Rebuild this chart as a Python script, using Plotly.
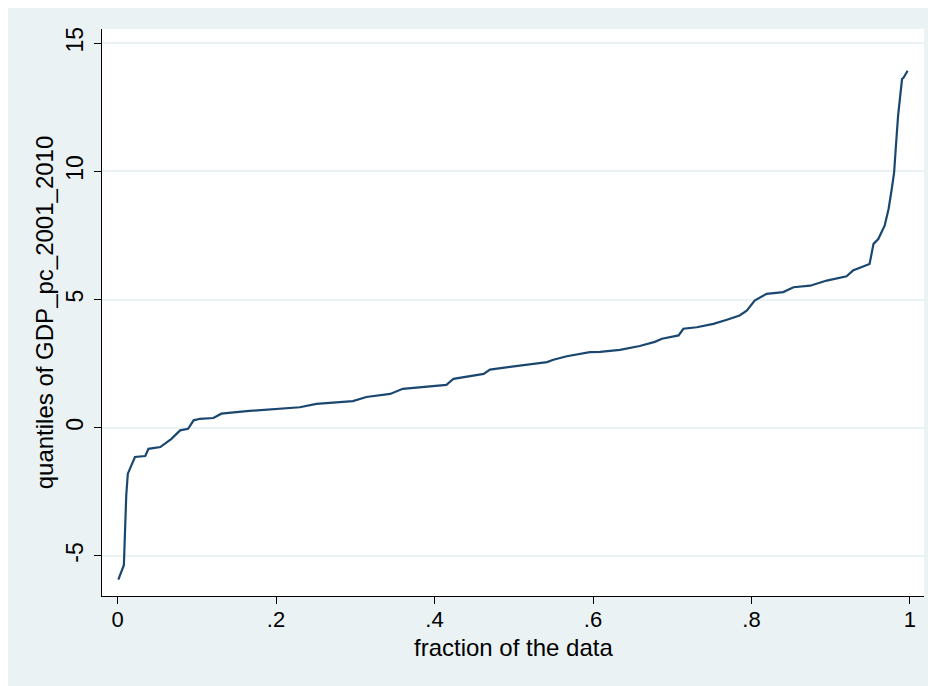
import plotly.graph_objects as go

# fraction of the data (x) and quantiles of GDP_pc_2001_2010 (y)
fraction = [0.001, 0.008, 0.009, 0.010, 0.011, 0.013, 0.022, 0.035, 0.039, 0.054,
            0.068, 0.079, 0.089, 0.096, 0.104, 0.121, 0.131, 0.163, 0.197, 0.230,
            0.251, 0.268, 0.297, 0.314, 0.344, 0.360, 0.415, 0.424, 0.462, 0.470,
            0.542, 0.550, 0.567, 0.596, 0.609, 0.634, 0.659, 0.678, 0.687, 0.708,
            0.714, 0.731, 0.752, 0.769, 0.785, 0.794, 0.804, 0.819, 0.840, 0.853,
            0.874, 0.895, 0.920, 0.928, 0.945, 0.949, 0.954, 0.960, 0.968, 0.973,
            0.977, 0.980, 0.982, 0.985, 0.990, 0.992, 0.997]
quantiles = [-5.92, -5.36, -4.45, -3.55, -2.64, -1.79, -1.14, -1.10, -0.82, -0.75,
             -0.43, -0.10, -0.04, 0.29, 0.35, 0.38, 0.55, 0.65, 0.74, 0.80,
             0.93, 0.97, 1.04, 1.20, 1.32, 1.52, 1.67, 1.91, 2.10, 2.27,
             2.56, 2.65, 2.79, 2.95, 2.96, 3.04, 3.19, 3.35, 3.47, 3.60,
             3.86, 3.92, 4.05, 4.21, 4.38, 4.57, 4.96, 5.22, 5.29, 5.48,
             5.54, 5.74, 5.91, 6.13, 6.35, 6.39, 7.17, 7.36, 7.88, 8.53,
             9.31, 9.96, 10.87, 12.17, 13.60, 13.66, 13.92]

x_ticks = [0, 0.2, 0.4, 0.6, 0.8, 1]
x_tick_labels = ["0", ".2", ".4", ".6", ".8", "1"]
y_ticks = [-5, 0, 5, 10, 15]
y_tick_labels = ["-5", "0", "5", "10", "15"]
x_title = "fraction of the data"
y_title = "quantiles of GDP_pc_2001_2010"

BG = "#EAF2F3"
LINE = "#1A476F"
FONT = "Arial, Liberation Sans, sans-serif"

fig = go.Figure()
fig.add_trace(go.Scatter(x=fraction, y=quantiles, mode="lines",
                         line=dict(color=LINE, width=2.2), showlegend=False,
                         hoverinfo="skip"))

fig.update_layout(
    width=928, height=678,
    margin=dict(l=94, r=12, t=21, b=90),
    paper_bgcolor=BG, plot_bgcolor="white",
    font=dict(family=FONT, size=23, color="#000000"),
    xaxis=dict(range=[-0.0196, 1.0177], tickvals=x_ticks, ticktext=x_tick_labels,
               showgrid=False, zeroline=False, showline=True, linecolor="#000000",
               linewidth=1.2, ticks="outside", ticklen=7, tickcolor="#000000",
               tickwidth=1.2, tickfont=dict(size=22), ticklabelstandoff=-4),
    yaxis=dict(range=[-6.56, 15.55], tickvals=y_ticks, ticktext=y_tick_labels,
               showgrid=True, gridcolor=BG, gridwidth=1.6, zeroline=False,
               showline=True, linecolor="#000000", linewidth=1.2,
               ticks="outside", ticklen=7, tickcolor="#000000", tickwidth=1.2,
               tickangle=-90, tickfont=dict(size=23), ticklabelstandoff=2,
               title=dict(text=y_title, font=dict(size=24), standoff=1)),
    annotations=[dict(text=x_title, xref="paper", yref="paper", x=0.5, y=-0.0917,
                      xanchor="center", yanchor="middle", showarrow=False,
                      font=dict(size=24, family=FONT, color="#000000"))],
)

fig.write_html("out.html")
